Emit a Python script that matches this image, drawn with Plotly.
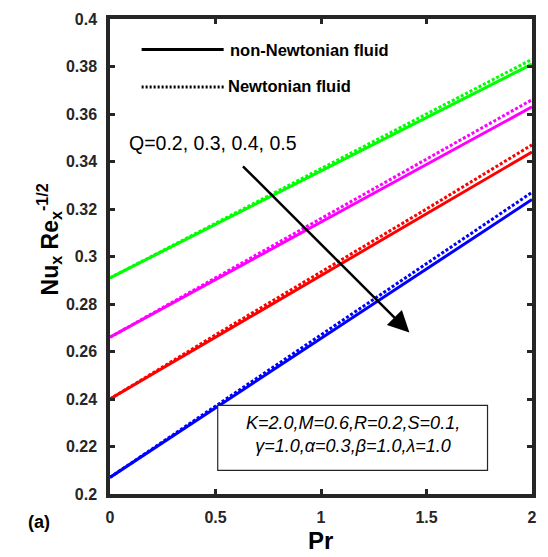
import plotly.graph_objects as go

# ---- data ----
pr = [0, 0.5, 1, 1.5, 2]

green_solid = [0.291, 0.3135, 0.336, 0.3585, 0.381]
green_dot = [0.291, 0.314, 0.337, 0.360, 0.383]
magenta_solid = [0.266, 0.2903, 0.3145, 0.3388, 0.363]
magenta_dot = [0.266, 0.291, 0.316, 0.341, 0.366]
red_solid = [0.240, 0.266, 0.292, 0.318, 0.344]
red_dot = [0.240, 0.267, 0.2935, 0.320, 0.347]
blue_solid = [0.207, 0.2362, 0.2655, 0.2947, 0.324]
blue_dot = [0.207, 0.237, 0.267, 0.297, 0.327]

x_ticks = [0, 0.5, 1, 1.5, 2]
x_ticklabels = ["0", "0.5", "1", "1.5", "2"]
y_ticks = [0.2, 0.22, 0.24, 0.26, 0.28, 0.3, 0.32, 0.34, 0.36, 0.38, 0.4]
y_ticklabels = ["0.2", "0.22", "0.24", "0.26", "0.28", "0.3", "0.32", "0.34", "0.36", "0.38", "0.4"]

FONT = "Arial, Liberation Sans, sans-serif"
AX = "#262626"

series = [
    (green_solid, green_dot, "#00ff00"),
    (magenta_solid, magenta_dot, "#ff00ff"),
    (red_solid, red_dot, "#ff0000"),
    (blue_solid, blue_dot, "#0000ff"),
]

fig = go.Figure()
for solid, dot, col in series:
    fig.add_trace(go.Scatter(x=pr, y=solid, mode="lines",
                             line=dict(color=col, width=3), showlegend=False))
    fig.add_trace(go.Scatter(x=pr, y=dot, mode="lines",
                             line=dict(color=col, width=3, dash="3px,2px"), showlegend=False))

axis_common = dict(showline=True, linewidth=3.5, linecolor=AX, mirror="ticks",
                   ticks="inside", ticklen=5, tickwidth=3, tickcolor=AX,
                   showgrid=False, zeroline=False,
                   tickfont=dict(family=FONT, size=16, color=AX, weight="bold"))

fig.update_xaxes(range=[0, 2], tickvals=x_ticks, ticktext=x_ticklabels,
                 ticklabelstandoff=6, **axis_common)
fig.update_yaxes(range=[0.2, 0.4], tickvals=y_ticks, ticktext=y_ticklabels,
                 ticklabelstandoff=6, **axis_common)


def px(xp):
    return (xp - 110) / 427


def py(yp):
    return (494 - yp) / 482


shapes = [
    # legend samples
    dict(type="line", xref="paper", yref="paper", x0=px(142), x1=px(225), y0=py(43), y1=py(43),
         line=dict(color="black", width=3)),
    dict(type="line", xref="paper", yref="paper", x0=px(142), x1=px(225), y0=py(81), y1=py(81),
         line=dict(color="black", width=3, dash="2px,2px")),
    # parameter box
    dict(type="rect", xref="paper", yref="paper", x0=px(219), x1=px(492),
         y0=py(470), y1=py(404), line=dict(color=AX, width=1.2),
         fillcolor="white"),
]

annotations = [
    dict(text="<b>non-Newtonian fluid</b>", xref="paper", yref="paper", x=px(229), y=py(43),
         xanchor="left", yanchor="middle", showarrow=False,
         font=dict(family=FONT, size=16.5, color="black")),
    dict(text="<b>Newtonian fluid</b>", xref="paper", yref="paper", x=px(227), y=py(80),
         xanchor="left", yanchor="middle", showarrow=False,
         font=dict(family=FONT, size=16.5, color="black")),
    dict(text="Q=0.2, 0.3, 0.4, 0.5", xref="paper", yref="paper", x=px(127), y=py(138),
         xanchor="left", yanchor="middle", showarrow=False,
         font=dict(family=FONT, size=19.5, color="black")),
    dict(text="", x=1.419, y=0.268, ax=0.623, ay=0.3386, xref="x", yref="y",
         axref="x", ayref="y", showarrow=True, arrowhead=2, arrowsize=1.7,
         arrowwidth=2.5, arrowcolor="black"),
    dict(text="<i>K=2.0,M=0.6,R=0.2,S=0.1,<br>γ=1.0,α=0.3,β=1.0,λ=1.0</i>",
         xref="paper", yref="paper", x=px(356), y=py(433.5),
         xanchor="center", yanchor="middle", showarrow=False, align="center",
         font=dict(family=FONT, size=18, color="black")),
    dict(text="<b>Nu<sub>x</sub> Re<sub>x</sub><sup>-1/2</sup></b>", xref="paper", yref="paper",
         x=px(48), y=py(236), xanchor="center", yanchor="middle",
         textangle=-90, showarrow=False, font=dict(family=FONT, size=23, color="black")),
    dict(text="<b>Pr</b>", xref="paper", yref="paper", x=px(323), y=py(541),
         xanchor="center", yanchor="middle", showarrow=False,
         font=dict(family=FONT, size=24, color="black")),
    dict(text="<b>(a)</b>", xref="paper", yref="paper", x=px(38), y=py(522),
         xanchor="center", yanchor="middle", showarrow=False,
         font=dict(family=FONT, size=18, color="black")),
]

fig.update_layout(width=548, height=557, margin=dict(l=110, r=11, t=12, b=63),
                  plot_bgcolor="white", paper_bgcolor="white",
                  shapes=shapes, annotations=annotations, showlegend=False)

fig.write_html("out.html", config={"displayModeBar": False},
               post_script="document.body.style.margin='0px';")
